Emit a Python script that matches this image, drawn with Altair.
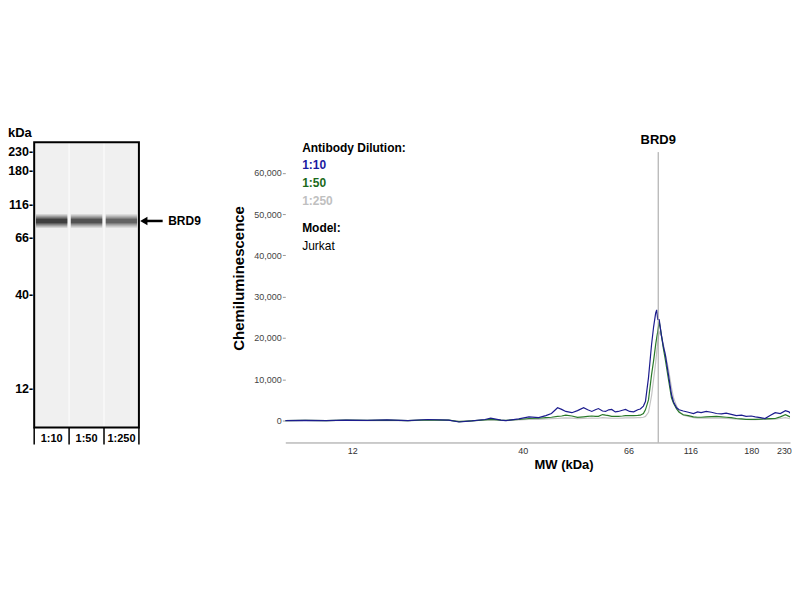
import altair as alt
import pandas as pd

FONT = "Liberation Sans"

# ---------------- Blot (left panel) ----------------
lane_labels = ["1:10", "1:50", "1:250"]
band_intensity = [1.0, 0.85, 0.72]
band_migration = 27.6            # % of blot length from the top
marker_kda = [230, 180, 116, 66, 40, 12]
marker_migration = [3.5, 10.1, 22.0, 33.6, 53.5, 86.4]
blot_target = "BRD9"

# ---------------- Electropherogram (right panel) ----------------
position = [
    0.0, 3.9, 8.0, 11.9, 16.0, 19.9, 24.0, 27.9, 32.0, 34.0,
    36.5, 39.1, 40.2, 42.2, 43.2, 45.7, 47.7, 49.6, 51.0, 52.1,
    53.3, 54.1, 54.9, 56.1, 57.2, 58.4, 59.2, 60.0, 60.7, 61.3,
    62.1, 62.7, 63.3, 63.9, 64.6, 65.2, 66.0, 66.6, 67.4, 68.2,
    69.0, 69.5, 70.1, 70.5, 71.1, 71.7, 72.1, 72.5, 72.7, 72.9,
    73.2, 73.6, 74.0, 74.4, 75.0, 75.6, 76.0, 76.6, 77.1, 77.9,
    78.9, 79.9, 80.7, 81.4, 82.4, 83.4, 84.4, 85.4, 86.3, 87.3,
    88.3, 89.3, 90.2, 91.2, 92.0, 93.0, 93.9, 94.9, 95.9, 96.9,
    97.9, 98.6, 99.4, 100.0,
]
sig_1_10 = [
    0, 60, 0, 120, 30, 150, 0, 250, 100, -350,
    -100, 250, 600, 100, 0, 400, 900, 700, 1200, 1700,
    3100, 2700, 2200, 1900, 2400, 3100, 2600, 2200, 2600, 2900,
    2300, 2200, 2600, 2700, 2100, 2200, 2500, 2700, 2200, 2100,
    2600, 2800, 3500, 4600, 10400, 18400, 22700, 26000, 26800, 24500,
    24400, 20800, 18000, 15900, 11100, 6300, 4500, 3100, 2600, 2300,
    2000, 1700, 2100, 1900, 2200, 2000, 1700, 1600, 1800, 1500,
    1200, 1300, 1000, 1100, 900, 700, 480, 1200, 1900, 1700,
    2400, 2100, 1000, 800,
]
sig_1_50 = [
    0, 40, 0, 80, 20, 100, 0, 150, 80, -250,
    -80, 150, 300, 100, 50, 250, 500, 550, 700, 800,
    1000, 1100, 1300, 1100, 750, 900, 1000, 1100, 1000, 1000,
    1450, 1300, 1200, 1000, 1000, 1000, 1100, 1200, 1200, 1200,
    1250, 1300, 1700, 2600, 5000, 11100, 14500, 18400, 20000, 21500,
    23900, 21000, 17500, 14700, 10000, 5500, 4200, 2800, 2000, 1400,
    1200, 900, 800, 800, 900, 950, 1000, 900, 800, 700,
    500, 400, 300, 300, 300, 350, 400, 450, 500, 900,
    1400, 1000, 500, 400,
]
sig_1_250 = [
    0, 30, 0, 50, 0, 60, 0, 80, 50, -150,
    -50, 100, 150, 50, 0, 150, 300, 300, 400, 450,
    500, 600, 650, 600, 450, 500, 550, 600, 550, 550,
    700, 650, 600, 550, 550, 550, 600, 650, 650, 650,
    700, 700, 800, 1000, 2000, 6000, 10000, 14000, 16500, 19000,
    21500, 20500, 18500, 16000, 12500, 8000, 5500, 3500, 2200, 1300,
    1000, 700, 600, 600, 600, 600, 600, 550, 500, 450,
    350, 300, 250, 200, 200, 250, 300, 300, 350, 500,
    700, 500, 300, 250,
]
series_names = ["1:10", "1:50", "1:250"]
series_colors = ["#1c1c8e", "#2a7a2a", "#c4c4c4"]
legend_colors = ["#1a1aa0", "#1a6a1a", "#c0c0c0"]
tick_pos = [13.1, 46.5, 67.2, 79.3, 91.2, 97.6]
tick_kda = ["12", "40", "66", "116", "180", "230"]
y_ticks = [0, 10000, 20000, 30000, 40000, 50000, 60000]
target_pos = 73.0
target_name = "BRD9"
model_name = "Jurkat"

assert len(position) == len(sig_1_10) == len(sig_1_50) == len(sig_1_250)

# ======================= LEFT: blot =======================
bx = alt.Scale(domain=[-0.75, 5.25], nice=False, zero=False)
by = alt.Scale(domain=[-46.85, 107.0], nice=False, zero=False, reverse=True)

lanes = pd.DataFrame({"lane": [0, 1, 2], "label": lane_labels, "I": band_intensity})
lanes["x0"] = lanes["lane"] + 0.02
lanes["x1"] = lanes["lane"] + 0.98
lanes["c"] = lanes["lane"] + 0.5
lanes["top"] = 0.0
lanes["bot"] = 100.0
lanes["mig"] = band_migration
lanes["b0"] = lanes["lane"] + 0.05
lanes["b1"] = lanes["lane"] + 0.95
lanes["lab_y"] = 104.2

blot_bg_df = pd.DataFrame({"x0": [0.0], "x1": [3.0], "y0": [0.0], "y1": [100.0]})
blot_bg = alt.Chart(blot_bg_df).mark_rect(color="#fafafa").encode(
    x=alt.X("x0:Q", scale=bx, axis=None), x2="x1:Q",
    y=alt.Y("y0:Q", scale=by, axis=None), y2="y1:Q",
)

lane_bg = alt.Chart(lanes).mark_rect(color="#f0f0f0").encode(
    x=alt.X("x0:Q", scale=bx, axis=None), x2="x1:Q",
    y=alt.Y("top:Q", scale=by, axis=None), y2="bot:Q",
)

band_layers = []
for h, f in [(2.3, 0.22), (1.6, 0.32), (0.9, 0.5)]:
    band_layers.append(
        alt.Chart(lanes).transform_calculate(
            y0=f"datum.mig - {h}", y1=f"datum.mig + {h}", op=f"datum.I * {f}"
        ).mark_rect(color="#000000").encode(
            x=alt.X("b0:Q", scale=bx, axis=None), x2="b1:Q",
            y=alt.Y("y0:Q", scale=by, axis=None), y2="y1:Q",
            opacity=alt.Opacity("op:Q", scale=None),
        )
    )

frame = alt.Chart(blot_bg_df).mark_rect(filled=False, color="#000000", strokeWidth=2).encode(
    x=alt.X("x0:Q", scale=bx, axis=None), x2="x1:Q",
    y=alt.Y("y0:Q", scale=by, axis=None), y2="y1:Q",
)

sep_df = pd.DataFrame({"x": [0.0, 1.0, 2.0, 3.0], "y0": 100.0, "y1": 106.0})
seps = alt.Chart(sep_df).mark_rule(color="#000000", strokeWidth=1.5).encode(
    x=alt.X("x:Q", scale=bx, axis=None),
    y=alt.Y("y0:Q", scale=by, axis=None), y2="y1:Q",
)

lane_txt = alt.Chart(lanes).mark_text(
    font=FONT, fontSize=11, fontWeight="bold", color="#000000", baseline="middle"
).encode(
    x=alt.X("c:Q", scale=bx, axis=None),
    y=alt.Y("lab_y:Q", scale=by, axis=None),
    text="label:N",
)

mk = pd.DataFrame({"kda": marker_kda, "mig": marker_migration})
mk["txt"] = mk["kda"].astype(str) + "-"
mk["x"] = -0.03
marker_txt = alt.Chart(mk).mark_text(
    font=FONT, fontSize=12.5, fontWeight="bold", color="#000000", align="right", baseline="middle"
).encode(
    x=alt.X("x:Q", scale=bx, axis=None),
    y=alt.Y("mig:Q", scale=by, axis=None),
    text="txt:N",
)

kda_df = pd.DataFrame({"x": [-0.75], "y": [-3.1], "t": ["kDa"]})
kda_txt = alt.Chart(kda_df).mark_text(
    font=FONT, fontSize=13, fontWeight="bold", color="#000000", align="left", baseline="middle"
).encode(
    x=alt.X("x:Q", scale=bx, axis=None),
    y=alt.Y("y:Q", scale=by, axis=None),
    text="t:N",
)

arrow_df = pd.DataFrame({"x0": [3.14], "x1": [3.68], "y": [band_migration], "tx": [3.84], "t": [blot_target]})
arrow_line = alt.Chart(arrow_df).mark_rule(color="#000000", strokeWidth=2.5).encode(
    x=alt.X("x0:Q", scale=bx, axis=None), x2="x1:Q",
    y=alt.Y("y:Q", scale=by, axis=None),
)
arrow_head = alt.Chart(arrow_df).mark_point(
    shape="triangle-left", filled=True, color="#000000", size=70, opacity=1
).encode(
    x=alt.X("x0:Q", scale=bx, axis=None),
    y=alt.Y("y:Q", scale=by, axis=None),
)
arrow_txt = alt.Chart(arrow_df).mark_text(
    font=FONT, fontSize=12, fontWeight="bold", color="#000000", align="left", baseline="middle"
).encode(
    x=alt.X("tx:Q", scale=bx, axis=None),
    y=alt.Y("y:Q", scale=by, axis=None),
    text="t:N",
)

left = alt.layer(
    blot_bg, lane_bg, *band_layers, frame, seps, lane_txt, marker_txt, kda_txt,
    arrow_line, arrow_head, arrow_txt,
).properties(width=210, height=440)

# ======================= RIGHT: trace =======================
tx = alt.Scale(domain=[0, 98.8], nice=False, zero=False)
ty = alt.Scale(domain=[-5314, 99758], nice=False, zero=False)

trace = pd.DataFrame({
    "position": position * 3,
    "signal": sig_1_10 + sig_1_50 + sig_1_250,
    "dilution": [series_names[0]] * len(position) + [series_names[1]] * len(position)
                + [series_names[2]] * len(position),
})

# map tick positions to their kDa labels with a chained conditional
label_expr = "''"
for p, t in reversed(list(zip(tick_pos, tick_kda))):
    label_expr = f"(abs(datum.value - {p}) < 0.05 ? '{t}' : {label_expr})"

x_axis = alt.Axis(
    values=tick_pos, labelExpr=label_expr, ticks=False, tickSize=0, grid=False,
    domainColor="#999999", domainWidth=1, labelFont=FONT, labelFontSize=9,
    labelColor="#333333", labelPadding=4, title="MW (kDa)", titleFont=FONT,
    titleFontSize=13, titleFontWeight="bold", titleColor="#000000",
    titleX=279, titleY=22, titleBaseline="middle",
)
y_axis = alt.Axis(
    values=y_ticks, format=",d", grid=False, domain=False, tickSize=3, tickColor="#999999",
    labelFont=FONT, labelFontSize=9, labelColor="#444444", labelPadding=1,
    title="Chemiluminescence", titleFont=FONT, titleFontSize=15, titleFontWeight="bold",
    titleColor="#000000", titleX=-42, titleY=270, titleAlign="center",
    titleBaseline="alphabetic", titleAngle=270,
)


def X(field):
    return alt.X(field, scale=tx, axis=x_axis)


def Y(field):
    return alt.Y(field, scale=ty, axis=y_axis)


line_layers = []
order = [2, 1, 0]  # draw 1:250 first, 1:10 on top
for idx in order:
    name = series_names[idx]
    line_layers.append(
        alt.Chart(trace).transform_filter(alt.datum.dilution == name).mark_line(
            color=series_colors[idx], strokeWidth=1.2, clip=True
        ).encode(x=X("position:Q"), y=Y("signal:Q"), order="position:Q")
    )

target_df = pd.DataFrame({"x": [target_pos], "y0": [-5314], "y1": [65000], "ty": [67900],
                          "t": [target_name]})
target_rule = alt.Chart(target_df).mark_rule(color="#a0a0a0", strokeWidth=1).encode(
    x=X("x:Q"), y=Y("y0:Q"), y2="y1:Q",
)
target_txt = alt.Chart(target_df).mark_text(
    font=FONT, fontSize=13, fontWeight="bold", color="#000000", baseline="middle"
).encode(x=X("x:Q"), y=Y("ty:Q"), text="t:N")

leg_bold = pd.DataFrame({
    "t": ["Antibody Dilution:"] + series_names + ["Model:"],
    "y": [65900, 61800, 57500, 53100, 46600],
    "c": ["#000000"] + legend_colors + ["#000000"],
    "x": 3.3,
})
leg_reg = pd.DataFrame({"t": [model_name], "y": [42300], "c": ["#000000"], "x": 3.3})

leg_b = alt.Chart(leg_bold).mark_text(
    font=FONT, fontSize=12, fontWeight="bold", align="left", baseline="middle"
).encode(x=X("x:Q"), y=Y("y:Q"), text="t:N", color=alt.Color("c:N", scale=None))
leg_r = alt.Chart(leg_reg).mark_text(
    font=FONT, fontSize=12, align="left", baseline="middle"
).encode(x=X("x:Q"), y=Y("y:Q"), text="t:N", color=alt.Color("c:N", scale=None))

right = alt.layer(*line_layers, target_rule, target_txt, leg_b, leg_r).properties(
    width=506, height=435
)

chart = alt.hconcat(left, right, spacing=68, bounds="flush").properties(
    padding=0, background="#ffffff"
).configure_view(strokeWidth=0)

chart.save("out.html", embed_options={"renderer": "svg", "actions": False})
